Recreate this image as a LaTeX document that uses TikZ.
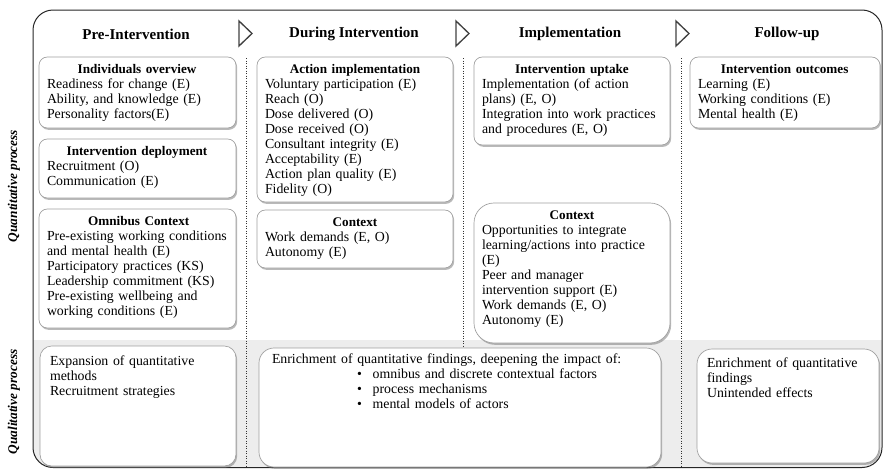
\documentclass[tikz,border=0pt]{standalone}
\usepackage{fontspec}
\setmainfont{Liberation Serif}
\usetikzlibrary{fit,shadows}

\newcommand{\boxhead}[1]{{\centering\bfseries\fontsize{7.9}{9}\selectfont #1\par}}

\tikzset{
  phase/.style={font=\bfseries\fontsize{9}{10}\selectfont, inner sep=0pt},
  side/.style={font=\bfseries\itshape\fontsize{8}{9}\selectfont, inner sep=0pt, rotate=90},
  box/.style={draw=gray!75, fill=white, inner sep=0pt, rounded corners=#1,
              drop shadow={shadow xshift=0.7pt, shadow yshift=-1.1pt,
                           opacity=0.5, fill=black!55}},
  box/.default=5pt,
  boxtext/.style={anchor=north west, text width=#1, align=left, inner sep=0pt,
                  font=\fontsize{8.3}{9}\selectfont},
  boxtext/.default=108pt,
  sep/.style={gray!40!black, line width=0.5pt, dash pattern=on 0.6pt off 0.9pt},
  band/.style={fill=gray!14},
  arrowtri/.style={draw=black!75, line width=0.8pt, line join=miter}
}

\begin{document}
\begin{tikzpicture}[x=0.6pt, y=-0.6pt]
  \useasboundingbox (0,0) rectangle (884,470);

  % qualitative band and outer frame
  \begin{scope}
    \clip[rounded corners=12pt] (33,10) rectangle (882,467.5);
    \fill[band] (33,340) rectangle (882,467.5);
  \end{scope}
  \draw[gray!30!black, line width=0.6pt, rounded corners=12pt] (33,10) rectangle (882,467.5);

  \node[side] (quant) at (14,186) {Quantitative process};
  \node[side] (qual) at (14,402) {Qualitative process};

  % phases
  \node[phase] (pre) at (136,34) {Pre-Intervention};
  \node[phase] (during) at (354,34) {During Intervention};
  \node[phase] (impl) at (570,34) {Implementation};
  \node[phase] (follow) at (787,34) {Follow-up};

  \foreach \x in {239, 456, 676} {
      \draw[arrowtri] (\x,21) -- (\x+13,33.5) -- (\x,46) -- cycle;
  }

  \foreach \x in {246, 463, 681} {
      \draw[sep] (\x,58) -- (\x,467.5);
  }

  % pre-intervention
  \node[box, fit={(39,57) (236,128)}] (iov) {};
  \node[boxtext] (iov-t) at ([xshift=4.8pt, yshift=-4.5pt]iov.north west)
    {\boxhead{Individuals overview}
     Readiness for change (E)\\Ability, and knowledge (E)\\Personality factors(E)};

  \node[box, fit={(39,139) (236,198)}] (dep) {};
  \node[boxtext] (dep-t) at ([xshift=4.8pt, yshift=-4.5pt]dep.north west)
    {\boxhead{Intervention deployment}
     Recruitment (O)\\Communication (E)};

  \node[box, fit={(39,209) (236,328)}] (omn) {};
  \node[boxtext=110pt] (omn-t) at ([xshift=4.8pt, yshift=-4.5pt]omn.north west)
    {\boxhead{Omnibus Context}
     Pre-existing working conditions\\and mental health (E)\\Participatory practices (KS)\\
     Leadership commitment (KS)\\Pre-existing wellbeing and\\working conditions (E)};

  % during intervention
  \node[box, fit={(257,57) (453,202)}] (act) {};
  \node[boxtext] (act-t) at ([xshift=4.8pt, yshift=-4.5pt]act.north west)
    {\boxhead{Action implementation}
     Voluntary participation (E)\\Reach (O)\\Dose delivered (O)\\Dose received (O)\\
     Consultant integrity (E)\\Acceptability (E)\\Action plan quality (E)\\Fidelity (O)};

  \node[box, fit={(257,210) (453,268)}] (ctxd) {};
  \node[boxtext] (ctxd-t) at ([xshift=4.8pt, yshift=-4.5pt]ctxd.north west)
    {\boxhead{Context}
     Work demands (E, O)\\Autonomy (E)};

  % implementation
  \node[box, fit={(474,57) (670,145)}] (upt) {};
  \node[boxtext] (upt-t) at ([xshift=4.8pt, yshift=-4.5pt]upt.north west)
    {\boxhead{Intervention uptake}
     Implementation (of action\\plans) (E, O)\\Integration into work practices\\and procedures (E, O)};

  \node[box=12pt, fit={(474,203) (670,343)}] (ctxi) {};
  \node[boxtext] (ctxi-t) at ([xshift=4.8pt, yshift=-4.5pt]ctxi.north west)
    {\boxhead{Context}
     Opportunities to integrate\\learning/actions into practice\\(E)\\Peer and manager\\
     intervention support (E)\\Work demands (E, O)\\Autonomy (E)};

  % follow-up
  \node[box, fit={(690,57) (880,128)}] (out) {};
  \node[boxtext=104pt] (out-t) at ([xshift=4.8pt, yshift=-4.5pt]out.north west)
    {\boxhead{Intervention outcomes}
     Learning (E)\\Working conditions (E)\\Mental health (E)};

  % qualitative process
  \node[box=7pt, fit={(40,346) (236,466)}] (expq) {};
  \node[boxtext] (expq-t) at ([xshift=6pt, yshift=-6pt]expq.north west)
    {Expansion of quantitative\\methods\\Recruitment strategies};

  \node[box=9pt, fit={(259,348) (661,467)}] (enrq) {};
  \node[boxtext=235pt] (enrq-t) at ([xshift=7.8pt, yshift=-3.3pt]enrq.north west)
    {Enrichment of quantitative findings, deepening the impact of:\\
     \hspace*{51pt}\textbullet\hspace{6.5pt}omnibus and discrete contextual factors\\
     \hspace*{51pt}\textbullet\hspace{6.5pt}process mechanisms\\
     \hspace*{51pt}\textbullet\hspace{6.5pt}mental models of actors};

  \node[box=9pt, fit={(697,349) (879,463)}] (unq) {};
  \node[boxtext=100pt] (unq-t) at ([xshift=6pt, yshift=-5.5pt]unq.north west)
    {Enrichment of quantitative\\findings\\Unintended effects};
\end{tikzpicture}
\end{document}
